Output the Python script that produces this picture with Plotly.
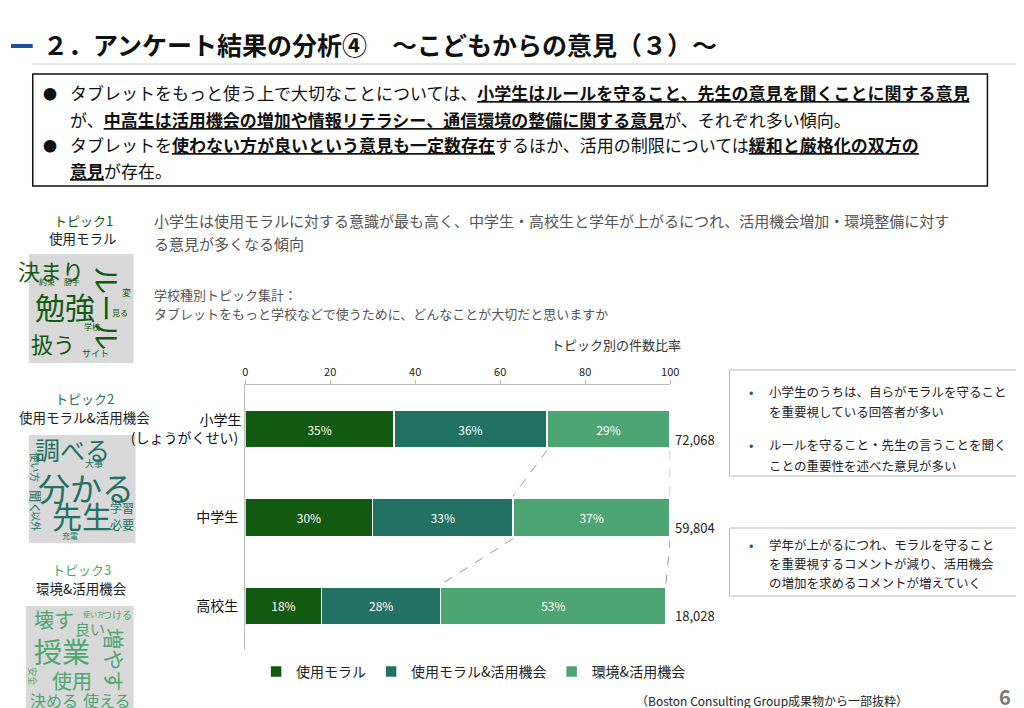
import plotly.graph_objects as go

# データ
schools = ["小学生<br>(しょうがくせい)", "中学生", "高校生"]
topics = ["使用モラル", "使用モラル&活用機会", "環境&活用機会"]
shares = {
    "使用モラル": [35, 30, 18],
    "使用モラル&活用機会": [36, 33, 28],
    "環境&活用機会": [29, 37, 53],
}
totals = ["72,068", "59,804", "18,028"]
colors = ["#125a12", "#227264", "#4ea574"]

W, H = 1024, 708
FONT = "Noto Sans CJK JP, Noto Sans, sans-serif"


def px(x):
    return x / W


def py(y):
    return 1 - y / H


def note(x, y, text, size, color="#222", xa="center", ya="middle", ang=0):
    return dict(x=px(x), y=py(y), xref="paper", yref="paper", xanchor=xa, yanchor=ya,
                showarrow=False, text=text, textangle=ang, font=dict(size=size, color=color))


fig = go.Figure()
for t, c in zip(topics, colors):
    fig.add_trace(go.Bar(
        y=schools, x=shares[t], name=t, orientation="h", marker_color=c,
        marker_line=dict(color="white", width=1.5), width=0.43,
        text=[f"{v}%" for v in shares[t]], textposition="inside",
        insidetextanchor="middle", textfont=dict(color="white", size=12),
    ))

shapes, ann = [], []

# 段の間の点線 (累積境界をつなぐ)
cum = []
for i in range(3):
    a = shares[topics[0]][i]
    b = a + shares[topics[1]][i]
    cum.append((a, b, b + shares[topics[2]][i]))
for i in range(2):
    for k in (1, 2):
        shapes.append(dict(type="line", xref="x", yref="y",
                           x0=cum[i][k], y0=i + 0.24, x1=cum[i + 1][k], y1=i + 0.76,
                           line=dict(color="#999", width=1, dash="dash")))

for i, tot in enumerate(totals):
    ann.append(dict(x=100, y=schools[i], xref="x", yref="y", text=tot, showarrow=False,
                    xanchor="left", yanchor="middle", yshift=-10, xshift=3,
                    font=dict(size=13, color="#222")))

# タイトル
ann.append(note(30, 36, "<b>２．アンケート結果の分析④　～こどもからの意見（３）～</b>", 25, "#111", xa="left"))
shapes.append(dict(type="line", xref="paper", yref="paper", x0=0, x1=px(22), y0=py(38), y1=py(38),
                   line=dict(color="#1f4e9c", width=4)))
shapes.append(dict(type="line", xref="paper", yref="paper", x0=px(22), x1=1, y0=py(56), y1=py(56),
                   line=dict(color="#d0d0d0", width=1)))

# 要約ボックス
shapes.append(dict(type="rect", xref="paper", yref="paper", x0=px(22), x1=px(988), y0=py(66), y1=py(178),
                   line=dict(color="#111", width=1.5)))
U = '<span style="text-decoration:underline"><b>'
E = '</b></span>'
lines = [
    (85, f"タブレットをもっと使う上で大切なことについては、{U}小学生はルールを守ること、先生の意見を聞くことに関する意見{E}"),
    (111, f"が、{U}中高生は活用機会の増加や情報リテラシー、通信環境の整備に関する意見{E}が、それぞれ多い傾向。"),
    (137, f"タブレットを{U}使わない方が良いという意見も一定数存在{E}するほか、活用の制限については{U}緩和と厳格化の双方の{E}"),
    (162, f"{U}意見{E}が存在。"),
]
for y in (85, 137):
    ann.append(note(30, y, "●", 14, "#111", xa="left"))
for y, t in lines:
    ann.append(note(58, y, t, 17, "#111", xa="left"))

# 説明文
for y, t, s in [
    (213, "小学生は使用モラルに対する意識が最も高く、中学生・高校生と学年が上がるにつれ、活用機会増加・環境整備に対す", 15),
    (236, "る意見が多くなる傾向", 15),
    (286, "学校種別トピック集計：", 13),
    (306, "タブレットをもっと学校などで使うために、どんなことが大切だと思いますか", 13),
]:
    ann.append(note(143, y, t, s, "#555", xa="left"))
ann.append(note(680, 336, "トピック別の件数比率", 13, "#333", xa="right"))

# ワードクラウド
clouds = [
    ("トピック1", "使用モラル", 213, 230, (18, 124, 246, 355), colors[0], [
        ("決まり", 40, 262, 22, 0), ("約束", 36, 273, 8, 0), ("勝手", 62, 273, 8, 0),
        ("勉強", 55, 298, 30, 0), ("扱う", 43, 335, 22, 0), ("ルール", 97, 300, 28, 90),
        ("変", 117, 284, 9, 0), ("見る", 110, 304, 8, 0), ("学校", 82, 318, 8, 0), ("サイト", 85, 345, 9, 0)]),
    ("トピック2", "使用モラル&活用機会", 390, 409, (18, 126, 427, 535), colors[1], [
        ("調べる", 62, 441, 25, 0), ("使い方", 25, 459, 10, 90), ("大事", 84, 456, 9, 0),
        ("分かる", 76, 479, 32, 0), ("聞く", 24, 494, 12, 90), ("以外", 26, 513, 10, 90),
        ("先生", 72, 507, 30, 0), ("学習", 112, 499, 12, 0), ("必要", 112, 516, 12, 0), ("充電", 60, 527, 8, 0)]),
    ("トピック3", "環境&活用機会", 561, 580, (15, 124, 598, 705), colors[2], [
        ("壊す", 44, 611, 20, 0), ("使い方", 83, 606, 7, 0), ("良い", 80, 620, 15, 0), ("つける", 107, 606, 10, 0),
        ("授業", 52, 643, 28, 0), ("増やす", 105, 652, 21, 90), ("安全", 22, 668, 9, 90),
        ("使用", 62, 672, 20, 0), ("決める", 44, 692, 16, 0), ("使える", 97, 692, 16, 0)]),
]
for head, sub, yh, ys, (x0, x1, y0, y1), col, words in clouds:
    cx = (x0 + x1) / 2
    ann.append(note(cx + 2, yh, head, 13, col))
    ann.append(note(cx + 2, ys, sub, 13.5, "#222"))
    shapes.append(dict(type="rect", xref="paper", yref="paper", x0=px(x0), x1=px(x1), y0=py(y0), y1=py(y1),
                       fillcolor="#d9d9d9", line=dict(width=0), layer="below"))
    for w, x, y, s, ang in words:
        ann.append(note(x, y, w, s, col, ang=ang))

# 右側のコメント
boxes = [
    ((727, 1019, 362, 468), [(383, "小学生のうちは、自らがモラルを守ること", True), (403, "を重要視している回答者が多い", False),
                             (437, "ルールを守ること・先生の言うことを聞く", True), (457, "ことの重要性を述べた意見が多い", False)]),
    ((727, 1019, 520, 588), [(536, "学年が上がるにつれ、モラルを守ること", True), (555, "を重要視するコメントが減り、活用機会", False),
                             (574, "の増加を求めるコメントが増えていく", False)]),
]
for (x0, x1, y0, y1), items in boxes:
    shapes.append(dict(type="rect", xref="paper", yref="paper", x0=px(x0), x1=px(x1), y0=py(y0), y1=py(y1),
                       line=dict(color="#bbb", width=1)))
    for y, t, bullet in items:
        if bullet:
            ann.append(note(745, y, "•", 13, "#1f4e9c", xa="left"))
        ann.append(note(765, y, t, 12.5, "#222", xa="left"))

ann.append(note(910, 692, "（Boston Consulting Group成果物から一部抜粋）", 12, "#222", xa="right"))
ann.append(note(1014, 688, "<b>6</b>", 20, "#777", xa="right"))

fig.update_layout(
    width=W, height=H, margin=dict(l=0, r=0, t=0, b=0),
    paper_bgcolor="white", plot_bgcolor="white",
    font=dict(family=FONT, color="#222"),
    barmode="stack", bargap=0.57,
    shapes=shapes, annotations=ann,
    xaxis=dict(domain=[px(237), px(667)], range=[0, 100], side="top", dtick=20,
               showgrid=False, zeroline=False, showline=True, linecolor="#bbb",
               ticks="outside", tickcolor="#bbb", ticklen=4, tickfont=dict(size=11, color="#222")),
    yaxis=dict(domain=[py(642), py(377)], autorange="reversed", showline=True, linecolor="#bbb",
               showgrid=False, tickfont=dict(size=14, color="#111"), ticksuffix=" "),
    legend=dict(orientation="h", x=px(248), y=py(648), xanchor="left", yanchor="top",
                font=dict(size=14, color="#222"), traceorder="normal"),
)

fig.write_html("out.html")
